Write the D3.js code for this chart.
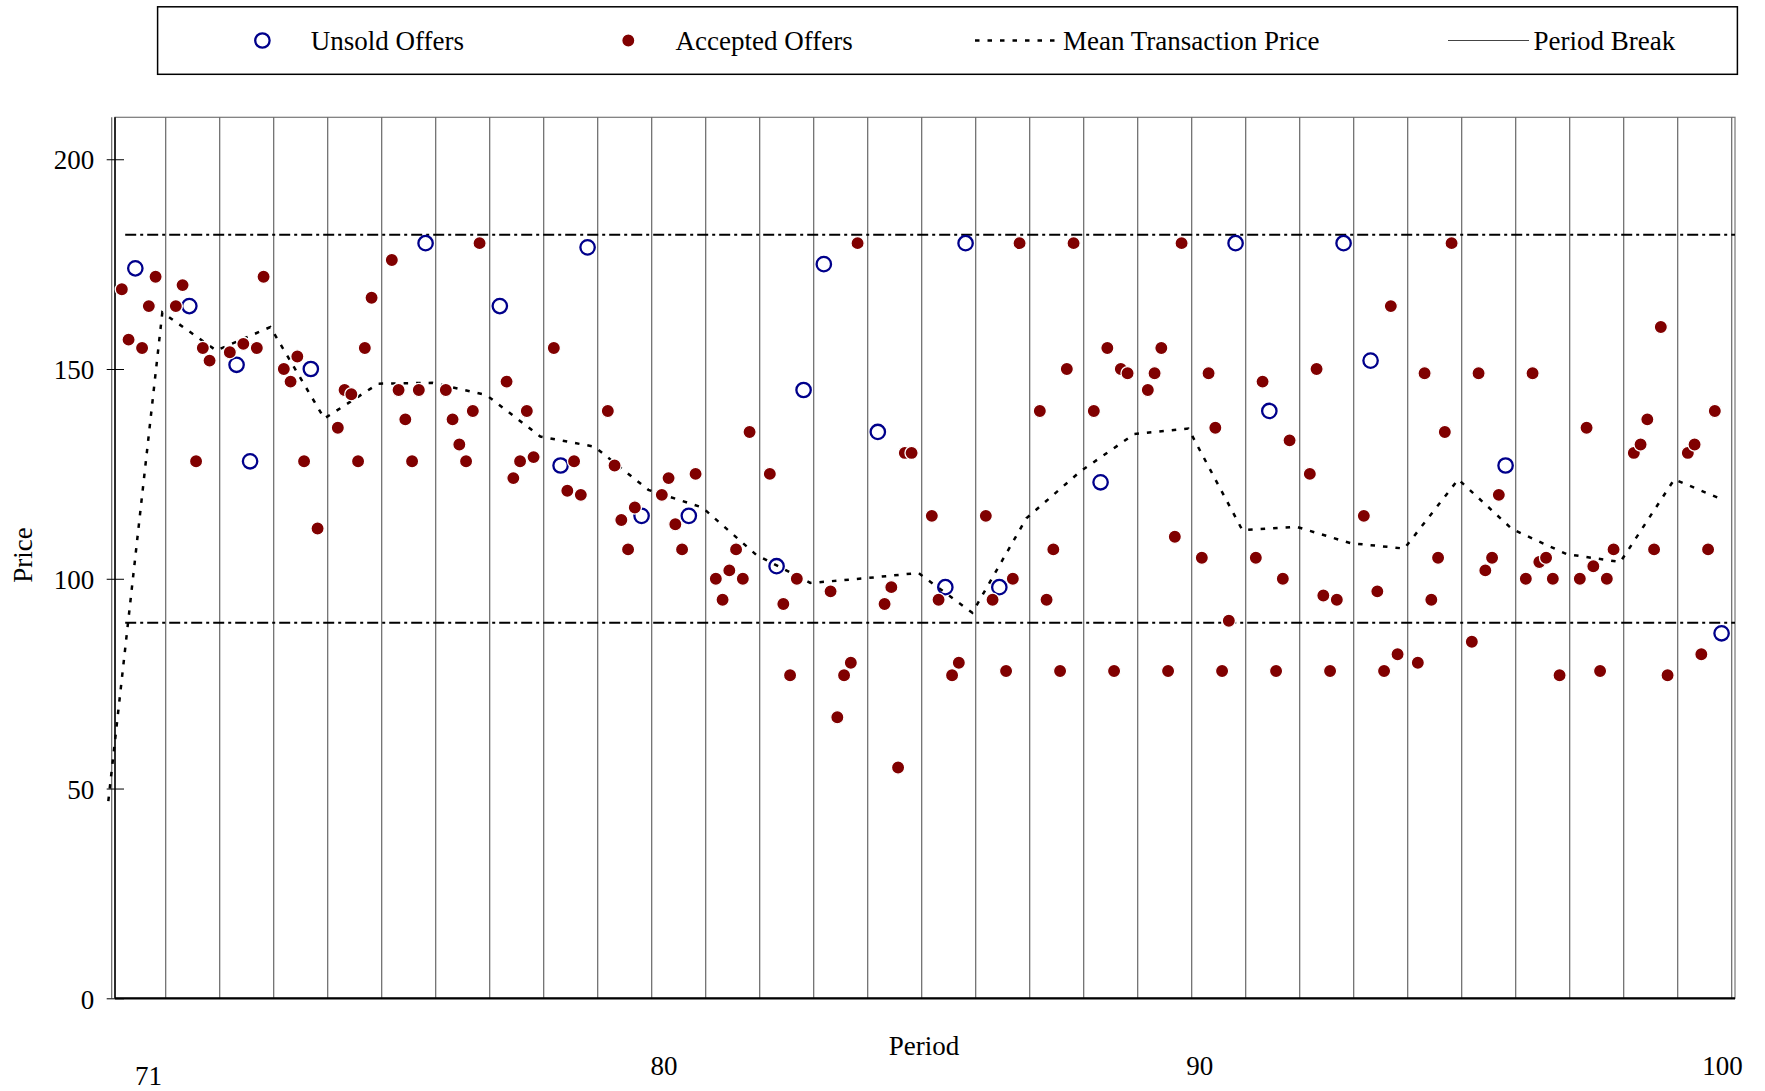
<!DOCTYPE html>
<html>
<head>
<meta charset="utf-8">
<script src="https://cdn.jsdelivr.net/npm/d3@7"></script>
<style>
  body { margin: 0; background: #fff; }
  text { font-family: "Liberation Serif", "Times New Roman", serif; fill: #000; }
</style>
</head>
<body>
<script>
// periods shown on the chart
var periods = d3.range(71, 101);

// six offers per period, in order of appearance
var offerPrices = [
  [169, 157, 174, 155, 165, 172],
  [165, 170, 165, 128, 155, 152],
  [154, 151, 156, 128, 155, 172],
  [150, 147, 153, 128, 150, 112],
  [136, 145, 144, 128, 155, 167],
  [176, 145, 138, 128, 145, 180],
  [145, 138, 132, 128, 140, 180],
  [165, 147, 124, 128, 140, 129],
  [155, 127, 121, 128, 120, 179],
  [140, 127, 114, 107, 117, 115],
  [120, 124, 113, 107, 115, 125],
  [100, 95, 102, 107, 100, 135],
  [125, 103, 94, 77, 100, 145],
  [175, 97, 67, 77, 80, 180],
  [135, 94, 98, 55, 130, 130],
  [115, 95, 98, 77, 80, 180],
  [115, 95, 98, 78, 100, 180],
  [140, 95, 107, 78, 150, 180],
  [140, 123, 155, 78, 150, 149],
  [145, 149, 155, 78, 110, 180],
  [105, 149, 136, 78, 90, 180],
  [105, 147, 140, 78, 100, 133],
  [125, 150, 96, 78, 95, 180],
  [115, 152, 97, 78, 165, 82],
  [80, 149, 95, 105, 135, 180],
  [85, 149, 102, 105, 120, 127],
  [100, 149, 104, 105, 100, 77],
  [100, 136, 103, 78, 100, 107],
  [130, 132, 138, 107, 160, 77],
  [130, 132, 82, 107, 140, 87]
];

// A = accepted, U = unsold
var offerStatus = [
  "AAUAAA", "AAUAAA", "AUAUAA", "AAAAUA", "AAAAAA",
  "AAAAAU", "AAAAAA", "UAAAAA", "AUAAAU", "AAAAAU",
  "AAAAUA", "AAAAAA", "AUAAAU", "UAAAAA", "UAAAAA",
  "AAUAAU", "AAUAAA", "AAAAAA", "AUAAAA", "AAAAAA",
  "AAAAAU", "AAUAAA", "AAAAAU", "AUAAAA", "AAAAAA",
  "AAAAAU", "AAAAAA", "AAAAAA", "AAAAAA", "AAAAAU"
];

// mean transaction price, periods 70..100
var meanPeriods = d3.range(70, 101);
var meanPrice = [47, 163.5, 154.4, 160, 138.2, 146.5, 146.7, 143.8, 133.9, 131.5,
  121.2, 117, 105.7, 99, 100.1, 101.4, 91.9, 114.4, 125.6, 134.5,
  135.8, 111.6, 112.4, 108.5, 107.2, 123.7, 111.8, 105.9, 104, 123.7, 119.1];

// reference price levels (dash-dot lines)
var refLevels = [182, 89.5];

var yTicks = [0, 50, 100, 150, 200];
var xTickLabels = ["71", "80", "90", "100"];
var xTickAt = [71.68, 81.23, 91.15, 100.83];

var legendItems = ["Unsold Offers", "Accepted Offers", "Mean Transaction Price", "Period Break"];

var width = 1765, height = 1091;
var svg = d3.select("body").append("svg")
    .attr("width", width)
    .attr("height", height);

// x is measured in periods from the start of period 71, 8 slots per period
var x = d3.scaleLinear().domain([0, 30]).range([111.7, 1731.7]);
var y = d3.scaleLinear().domain([0, 210]).range([998.3, 117.3]);
var slot = 1 / 8;

var plotLeft = 115, plotRight = 1735;

//frame
svg.append("rect")
  .attr("x", plotLeft).attr("y", y(210))
  .attr("width", plotRight - plotLeft).attr("height", y(0) - y(210))
  .attr("fill", "none").attr("stroke", "#777").attr("stroke-width", 1.2);

//period breaks
svg.selectAll(".brk")
  .data(d3.range(0, 31))
  .enter().append("line")
  .attr("class", "brk")
  .attr("x1", function(d) { return x(d); })
  .attr("x2", function(d) { return x(d); })
  .attr("y1", y(210)).attr("y2", y(0))
  .attr("stroke", "#666").attr("stroke-width", 1.2);

//axis lines
svg.append("line")
  .attr("x1", plotLeft).attr("x2", plotLeft)
  .attr("y1", y(210)).attr("y2", y(0))
  .attr("stroke", "#000").attr("stroke-width", 1.5);
svg.append("line")
  .attr("x1", plotLeft).attr("x2", plotRight)
  .attr("y1", y(0)).attr("y2", y(0))
  .attr("stroke", "#000").attr("stroke-width", 2.2);

//y axis ticks
var yAxis = svg.append("g")
  .attr("transform", "translate(" + plotLeft + ",0)")
  .call(d3.axisLeft(y).tickValues(yTicks).tickSize(8.3).tickPadding(12.4));
yAxis.select(".domain").remove();
yAxis.selectAll(".tick line").attr("x1", 9).attr("stroke", "#000");
yAxis.selectAll(".tick text")
  .style("font-family", '"Liberation Serif", serif')
  .style("font-size", "27px")
  .attr("dy", "0.36em");

//x labels
svg.selectAll(".xlab")
  .data(xTickLabels)
  .enter().append("text")
  .attr("class", "xlab")
  .attr("x", function(d, i) { return x(xTickAt[i] - 71); })
  .attr("y", function(d, i) { return i === 0 ? 1085 : 1075; })
  .attr("text-anchor", "middle")
  .style("font-size", "27px")
  .text(function(d) { return d; });

svg.append("text")
  .attr("x", 924).attr("y", 1055)
  .attr("text-anchor", "middle")
  .style("font-size", "27px")
  .text("Period");

svg.append("text")
  .attr("transform", "translate(31.5,555) rotate(-90)")
  .attr("text-anchor", "middle")
  .style("font-size", "27px")
  .text("Price");

//reference levels
svg.selectAll(".ref")
  .data(refLevels)
  .enter().append("line")
  .attr("class", "ref")
  .attr("x1", x(2 * slot)).attr("x2", plotRight)
  .attr("y1", function(d) { return y(d); })
  .attr("y2", function(d) { return y(d); })
  .attr("stroke", "#000").attr("stroke-width", 2)
  .attr("stroke-dasharray", "11,4,3,4");

//mean transaction price
var meanPts = meanPeriods.map(function(p, i) {
  var s = p === 100 ? 6.3 : 7.5;
  return [x(p - 71 + s * slot), y(meanPrice[i])];
});
svg.append("path")
  .datum(meanPts)
  .attr("d", d3.line())
  .attr("fill", "none")
  .attr("stroke", "#000").attr("stroke-width", 2.5)
  .attr("stroke-dasharray", "4.5,8");

//offers
var offers = [];
periods.forEach(function(p, i) {
  offerPrices[i].forEach(function(v, k) {
    offers.push({ period: p, k: k + 1, price: v, status: offerStatus[i][k] });
  });
});

function offerX(d) { return x(d.period - 71 + (d.k + 0.5) * slot); }

svg.selectAll(".unsold")
  .data(offers.filter(function(d) { return d.status === "U"; }))
  .enter().append("circle")
  .attr("class", "unsold")
  .attr("cx", offerX)
  .attr("cy", function(d) { return y(d.price); })
  .attr("r", 7.2)
  .attr("fill", "none")
  .attr("stroke", "#00008b").attr("stroke-width", 2.3);

svg.selectAll(".accepted")
  .data(offers.filter(function(d) { return d.status === "A"; }))
  .enter().append("circle")
  .attr("class", "accepted")
  .attr("cx", offerX)
  .attr("cy", function(d) { return y(d.price); })
  .attr("r", 6.6)
  .attr("fill", "#800000")
  .attr("stroke", "#fff").attr("stroke-width", 1.3);

//legend
var legend = svg.append("g");
legend.append("rect")
  .attr("x", 157.6).attr("y", 6.8)
  .attr("width", 1579.8).attr("height", 67.5)
  .attr("fill", "#fff").attr("stroke", "#000").attr("stroke-width", 1.5);

var ly = 40.5;
legend.append("circle")
  .attr("cx", 262.4).attr("cy", ly).attr("r", 7.2)
  .attr("fill", "none").attr("stroke", "#00008b").attr("stroke-width", 2.3);
legend.append("circle")
  .attr("cx", 628.3).attr("cy", ly).attr("r", 6.6)
  .attr("fill", "#800000").attr("stroke", "#fff").attr("stroke-width", 1.3);
legend.append("line")
  .attr("x1", 975).attr("x2", 1058).attr("y1", ly).attr("y2", ly)
  .attr("stroke", "#000").attr("stroke-width", 2.5)
  .attr("stroke-dasharray", "4.5,8");
legend.append("line")
  .attr("x1", 1448).attr("x2", 1529).attr("y1", ly).attr("y2", ly)
  .attr("stroke", "#444").attr("stroke-width", 1.2);

var legendX = [310.8, 675.6, 1063, 1533.6];
legend.selectAll(".ltext")
  .data(legendItems)
  .enter().append("text")
  .attr("class", "ltext")
  .attr("x", function(d, i) { return legendX[i]; })
  .attr("y", 50)
  .style("font-size", "27px")
  .text(function(d) { return d; });
</script>
</body>
</html>
